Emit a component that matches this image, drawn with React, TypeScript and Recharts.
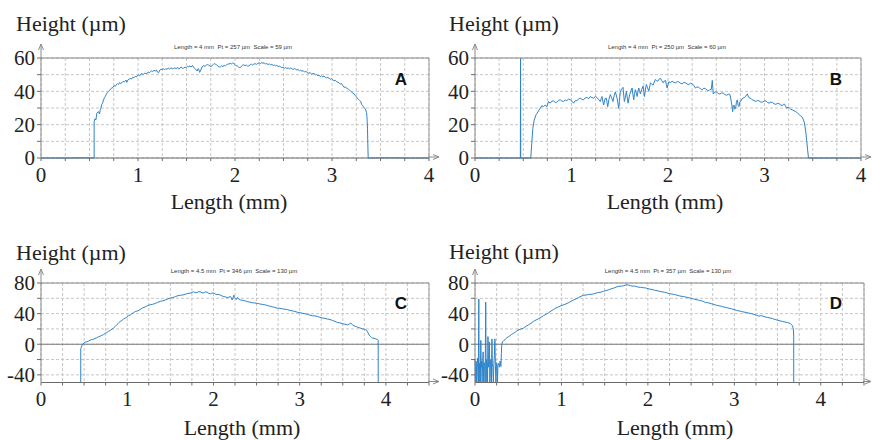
import React from 'react';
import { LineChart, Line, XAxis, YAxis, CartesianGrid, ReferenceLine } from 'recharts';

// ---------- data: [length (mm), height (µm)] ----------
const profileA: [number, number][] = [
  [0, 0], [0.3, 0], [0.45, 0.1], [0.548, 0], [0.548, 21.6], [0.556, 23.5], [0.566, 22.8], [0.575, 26.7], [0.585, 27.5], [0.593, 27.8],
  [0.603, 26.4], [0.61, 28.6], [0.617, 29.8], [0.627, 32.2], [0.636, 33.1], [0.644, 34.9], [0.655, 36.2], [0.664, 37.1], [0.672, 38], [0.684, 39.3],
  [0.696, 40], [0.708, 40.6], [0.718, 41.5], [0.73, 42], [0.742, 42.3], [0.754, 43.4], [0.765, 43], [0.776, 43.9], [0.788, 44.6], [0.799, 44.1],
  [0.81, 45.2], [0.822, 44.7], [0.834, 45.1], [0.846, 46], [0.858, 45.6], [0.868, 46.1], [0.876, 46.8], [0.885, 45.4], [0.897, 46.9], [0.909, 47.4],
  [0.92, 47.8], [0.932, 47.3], [0.945, 48.4], [0.958, 48.1], [0.971, 49], [0.983, 48.6], [0.995, 49.5], [1.006, 49.8], [1.018, 49.3], [1.03, 50.4],
  [1.04, 50.6], [1.055, 50.1], [1.07, 51], [1.081, 50.7], [1.092, 50.8], [1.105, 51.5], [1.117, 51.1], [1.127, 51.8], [1.14, 52.3], [1.152, 51.9],
  [1.165, 52.6], [1.178, 52.2], [1.19, 52.8], [1.2, 51.6], [1.213, 51.2], [1.224, 52.7], [1.235, 53.2], [1.247, 53], [1.26, 53.6], [1.272, 53.1],
  [1.285, 53.5], [1.299, 53.3], [1.312, 53.9], [1.326, 53.4], [1.34, 54.1], [1.354, 53.6], [1.368, 53.7], [1.38, 54.2], [1.393, 53.5], [1.406, 54.4],
  [1.419, 53.3], [1.432, 54], [1.446, 54.6], [1.458, 53.8], [1.471, 53.9], [1.484, 54.5], [1.497, 54.2], [1.51, 55], [1.523, 54.7], [1.536, 55.3],
  [1.548, 54.6], [1.562, 55.6], [1.574, 54.3], [1.586, 53.8], [1.598, 52.9], [1.609, 52.2], [1.618, 53.6], [1.626, 53.3], [1.635, 51.4], [1.643, 52],
  [1.652, 53.4], [1.66, 54.6], [1.67, 55.1], [1.678, 55.5], [1.69, 54.9], [1.704, 55.7], [1.717, 56], [1.729, 55.7], [1.742, 55.1], [1.752, 54.9],
  [1.764, 55.4], [1.776, 56.1], [1.787, 56.6], [1.798, 56.3], [1.81, 55.9], [1.824, 55.2], [1.837, 54.6], [1.85, 54.7], [1.863, 55.3], [1.876, 54.9],
  [1.889, 55.6], [1.902, 55.3], [1.914, 55.8], [1.925, 56.5], [1.936, 56.3], [1.95, 56.8], [1.962, 56.4], [1.975, 57], [1.988, 56.7], [2, 56.1],
  [2.011, 55.4], [2.022, 55.3], [2.035, 54.6], [2.046, 54.3], [2.057, 54.3], [2.068, 55.2], [2.079, 55.7], [2.091, 55.9], [2.104, 55.4], [2.117, 55.8],
  [2.13, 55.1], [2.143, 55.3], [2.156, 55.9], [2.169, 56.3], [2.181, 55.8], [2.194, 56.3], [2.208, 56.6], [2.222, 56.2], [2.236, 56.8], [2.25, 57.1],
  [2.263, 56.7], [2.276, 57.2], [2.289, 56.9], [2.302, 57.1], [2.315, 56.3], [2.328, 56.7], [2.341, 56.1], [2.354, 56.4], [2.367, 55.9], [2.38, 56.2],
  [2.393, 55.5], [2.406, 55.8], [2.418, 55.3], [2.431, 55.6], [2.444, 54.9], [2.457, 55.1], [2.47, 54.7], [2.483, 54.2], [2.496, 54.6], [2.509, 53.9],
  [2.522, 54.2], [2.535, 53.7], [2.548, 54.1], [2.56, 53.5], [2.573, 54], [2.586, 53.6], [2.599, 53.1], [2.612, 53.6], [2.625, 53.3], [2.638, 52.8],
  [2.651, 53.1], [2.664, 52.4], [2.677, 52.7], [2.69, 52.1], [2.703, 52.4], [2.716, 51.6], [2.73, 51.9], [2.746, 51.4], [2.76, 50.9], [2.774, 51.2],
  [2.788, 50.4], [2.8, 50.7], [2.815, 50.6], [2.828, 49.9], [2.84, 50.1], [2.853, 49.4], [2.866, 49.6], [2.879, 48.9], [2.892, 49.3], [2.905, 48.7],
  [2.918, 49.2], [2.931, 48.4], [2.944, 48.1], [2.957, 48.4], [2.97, 47.8], [2.983, 47.3], [2.996, 47.6], [3.008, 46.9], [3.021, 46.4], [3.034, 46.6],
  [3.047, 45.8], [3.06, 45.5], [3.073, 45.1], [3.086, 44.3], [3.099, 44.6], [3.112, 43.4], [3.125, 42.4], [3.137, 42.7], [3.148, 41.9], [3.159, 41.6],
  [3.17, 41.2], [3.182, 40.6], [3.194, 40], [3.205, 39.4], [3.216, 38.9], [3.228, 38.4], [3.24, 37.5], [3.251, 36.7], [3.262, 35.9], [3.272, 35.2],
  [3.283, 34.6], [3.297, 33.9], [3.305, 32.1], [3.314, 31.7], [3.324, 30.8], [3.333, 30.2], [3.341, 29.6], [3.349, 28.8], [3.356, 27.2], [3.359, 25.7],
  [3.363, 22], [3.366, 17.5], [3.369, 9], [3.373, 0], [3.6, 0.1], [3.8, 0], [4, 0],
];

const profileB: [number, number][] = [
  [0, 0], [0.3, 0], [0.47, 0], [0.472, 60], [0.474, 0], [0.578, 0], [0.589, 9.4], [0.599, 17.6], [0.613, 22.7], [0.634, 26.1],
  [0.658, 28.2], [0.675, 29.8], [0.693, 31.4], [0.71, 30.8], [0.727, 31.8], [0.745, 30.8], [0.762, 33.9], [0.779, 32.9], [0.796, 34.1], [0.814, 34.3],
  [0.831, 33.2], [0.848, 33.5], [0.866, 34.6], [0.883, 34.9], [0.9, 34.2], [0.918, 33.9], [0.935, 34.8], [0.952, 34.5], [0.97, 35.3], [0.987, 34.9],
  [1.005, 34.1], [1.022, 32.9], [1.039, 34.4], [1.056, 34.3], [1.074, 35.5], [1.091, 35.9], [1.108, 35.2], [1.125, 34.9], [1.143, 36.1], [1.16, 36.3],
  [1.178, 35.6], [1.195, 36.9], [1.212, 36.2], [1.229, 35.9], [1.247, 36.9], [1.264, 36.3], [1.281, 35.1], [1.299, 33.9], [1.308, 35.8], [1.316, 36.9],
  [1.325, 34.2], [1.333, 31.8], [1.347, 35.5], [1.361, 35.9], [1.368, 33.4], [1.375, 30.8], [1.388, 35.2], [1.402, 38], [1.416, 36.1], [1.43, 33.9],
  [1.442, 37.4], [1.454, 39.6], [1.463, 37.9], [1.472, 35.9], [1.48, 33.2], [1.489, 29.8], [1.497, 34.6], [1.506, 40], [1.52, 41.3], [1.534, 42.4],
  [1.541, 37.8], [1.548, 33.9], [1.558, 36.5], [1.569, 40], [1.577, 36.6], [1.586, 32.9], [1.594, 35.4], [1.603, 38], [1.615, 40.1], [1.628, 42],
  [1.636, 38.3], [1.645, 34.9], [1.653, 38.6], [1.662, 41], [1.671, 39.1], [1.68, 36.9], [1.688, 39.6], [1.697, 42], [1.705, 40.4], [1.714, 38.4],
  [1.728, 41.2], [1.742, 43.1], [1.749, 39.8], [1.756, 36.9], [1.766, 40.9], [1.776, 44.1], [1.788, 42.2], [1.801, 40], [1.81, 42.6], [1.818, 45.1],
  [1.832, 44.3], [1.846, 43.7], [1.858, 45.6], [1.87, 47.1], [1.882, 46.3], [1.894, 46.1], [1.908, 47.3], [1.922, 47.8], [1.936, 46.4], [1.95, 45.1],
  [1.962, 46.2], [1.974, 46.5], [1.982, 44.2], [1.991, 42], [2.0, 44.1], [2.008, 45.7], [2.026, 45.3], [2.043, 46.1], [2.06, 45.4], [2.078, 45.1],
  [2.095, 45.8], [2.112, 45.7], [2.13, 44.8], [2.147, 44.5], [2.164, 45.3], [2.182, 45.1], [2.199, 44.3], [2.216, 44.1], [2.234, 44.9], [2.251, 44.5],
  [2.268, 43.4], [2.285, 42], [2.302, 42.7], [2.32, 42.4], [2.337, 41.4], [2.355, 41], [2.372, 41.9], [2.389, 41.6], [2.406, 40.6], [2.424, 40.4],
  [2.436, 41.2], [2.448, 41], [2.459, 46.5], [2.469, 38.4], [2.486, 39.7], [2.504, 39.6], [2.521, 38.6], [2.538, 38.4], [2.556, 39.1], [2.573, 38.9],
  [2.59, 38.1], [2.608, 37.6], [2.625, 38.3], [2.642, 38], [2.656, 33.9], [2.663, 31.2], [2.67, 27.8], [2.677, 31.4], [2.684, 31.8], [2.692, 29.3],
  [2.701, 29.8], [2.709, 33.5], [2.718, 34.9], [2.727, 31.6], [2.736, 30.8], [2.745, 33.8], [2.753, 33.9], [2.765, 35.4], [2.777, 35.9], [2.791, 36.3],
  [2.805, 36.9], [2.813, 37.9], [2.822, 38.4], [2.836, 36.4], [2.85, 35.9], [2.862, 35.6], [2.874, 34.9], [2.891, 34.6], [2.909, 33.9], [2.926, 34.5],
  [2.943, 34.3], [2.96, 33.6], [2.978, 33.5], [2.995, 34.1], [3.013, 34.3], [3.03, 33.4], [3.047, 32.9], [3.065, 33.6], [3.082, 33.3], [3.1, 32.5],
  [3.117, 32.2], [3.134, 32.8], [3.151, 32.6], [3.169, 31.8], [3.186, 31.4], [3.198, 32.3], [3.21, 32.2], [3.22, 30.9], [3.231, 29.8], [3.243, 30.6],
  [3.255, 30.2], [3.272, 29.3], [3.29, 28.8], [3.307, 28.3], [3.324, 27.8], [3.342, 27], [3.359, 26.1], [3.373, 25.4], [3.387, 24.7], [3.4, 23.4],
  [3.411, 21.6], [3.42, 18.8], [3.428, 15.5], [3.437, 10.5], [3.446, 5.3], [3.456, 0], [3.8, 0], [4, 0],
];

const profileC: [number, number][] = [
  [0, -50], [0.2, -50], [0.461, -50], [0.461, -5.8], [0.469, -3.6], [0.477, -1.2], [0.485, 0], [0.498, 1.6], [0.512, 2.7], [0.531, 3.1],
  [0.55, 4], [0.57, 5.3], [0.589, 6.2], [0.608, 6.6], [0.628, 7.6], [0.648, 8.4], [0.667, 9.8], [0.686, 10.5], [0.705, 11.6], [0.724, 12.5],
  [0.744, 14.2], [0.763, 15.3], [0.783, 16.9], [0.802, 17.8], [0.822, 19.6], [0.841, 21], [0.86, 23.1], [0.88, 25.6], [0.899, 27.6], [0.918, 29.7],
  [0.938, 31.1], [0.957, 32.9], [0.977, 34.2], [0.996, 35.4], [1.015, 37.3], [1.034, 38.2], [1.054, 40], [1.073, 41.1], [1.093, 42.7], [1.122, 43.6],
  [1.151, 45.3], [1.18, 47.5], [1.209, 48.9], [1.238, 50.6], [1.267, 51.6], [1.296, 52.2], [1.326, 53.3], [1.355, 54.8], [1.384, 56], [1.413, 56.7],
  [1.442, 57.8], [1.471, 59.2], [1.5, 60.4], [1.529, 60.9], [1.558, 62.2], [1.587, 63.4], [1.616, 64], [1.645, 64.4], [1.674, 65.3], [1.703, 66.4],
  [1.733, 66.7], [1.752, 67.8], [1.771, 68.4], [1.79, 67.3], [1.81, 67.6], [1.83, 68.7], [1.849, 68.4], [1.868, 67.2], [1.888, 67.1], [1.907, 68.5],
  [1.926, 68], [1.946, 66.5], [1.965, 65.8], [1.985, 67.1], [2.004, 66.7], [2.023, 65.4], [2.043, 64.9], [2.062, 65.2], [2.081, 64], [2.1, 63.1],
  [2.12, 62.2], [2.14, 61.8], [2.159, 60.9], [2.178, 61.6], [2.198, 62.2], [2.208, 60.3], [2.217, 57.8], [2.227, 60.5], [2.236, 64], [2.246, 61.1],
  [2.256, 59.6], [2.266, 58.4], [2.275, 60.9], [2.295, 59.1], [2.314, 57.8], [2.334, 57.5], [2.353, 56.9], [2.372, 56.6], [2.392, 55.6], [2.421, 55.1],
  [2.45, 54.2], [2.479, 53.9], [2.508, 53.3], [2.537, 52.7], [2.566, 52], [2.595, 51.6], [2.624, 50.7], [2.653, 49.7], [2.682, 48.9], [2.711, 48.2],
  [2.74, 47.1], [2.769, 47], [2.798, 46.2], [2.828, 45.8], [2.857, 45.3], [2.886, 44.2], [2.915, 43.6], [2.944, 42.9], [2.973, 41.8], [3.002, 41.3],
  [3.031, 40.4], [3.06, 39.9], [3.089, 39.1], [3.118, 38.1], [3.147, 37.3], [3.176, 37], [3.205, 36.4], [3.234, 35.2], [3.264, 34.2], [3.293, 33.8],
  [3.322, 32.9], [3.351, 32.3], [3.38, 31.1], [3.409, 29.9], [3.438, 28.4], [3.467, 27.9], [3.496, 26.7], [3.525, 26.2], [3.554, 25.3], [3.574, 26.3],
  [3.593, 27.6], [3.612, 25.5], [3.632, 24], [3.651, 23.3], [3.671, 22.2], [3.69, 21.5], [3.709, 20.9], [3.729, 20.1], [3.748, 19.6], [3.764, 18.9],
  [3.779, 17.8], [3.792, 15], [3.806, 12], [3.82, 10.2], [3.833, 8.9], [3.848, 8], [3.864, 7.6], [3.884, 6.9], [3.903, 6.2], [3.911, 5.3],
  [3.911, -50], [4.2, -50], [4.5, -50],
];

const profileD: [number, number][] = [
  [0, -20], [0.005, -50], [0.01, -22], [0.016, -25], [0.02, -50], [0.026, -24], [0.032, -18], [0.038, -50], [0.044, 59], [0.048, -50],
  [0.053, -25], [0.058, -28], [0.062, -50], [0.067, 5], [0.072, -30], [0.077, -22], [0.082, -50], [0.088, -26], [0.094, -10], [0.1, -50],
  [0.106, -24], [0.112, -28], [0.117, -50], [0.124, 55], [0.129, -50], [0.134, -20], [0.14, -26], [0.145, -50], [0.15, 10], [0.156, -30],
  [0.162, -22], [0.167, 3], [0.172, -50], [0.178, -28], [0.184, -20], [0.19, -50], [0.196, 7], [0.2, -25], [0.206, -30], [0.212, -50],
  [0.218, -26], [0.224, -15], [0.23, 7], [0.236, -28], [0.242, -50], [0.248, -24], [0.254, -26], [0.26, -50], [0.265, -28], [0.272, -25],
  [0.278, -28], [0.284, -30], [0.29, -22], [0.296, -27], [0.3, -29], [0.305, -12], [0.309, -1.3], [0.317, 3.1], [0.332, 4.8], [0.348, 6.2],
  [0.367, 8.3], [0.387, 9.8], [0.406, 11.2], [0.425, 12.9], [0.444, 14.1], [0.464, 15.6], [0.483, 17.4], [0.502, 18.7], [0.531, 19.8], [0.56, 20.9],
  [0.589, 23.4], [0.618, 25.3], [0.647, 27.3], [0.676, 29.8], [0.705, 31.6], [0.734, 33.3], [0.763, 35.1], [0.792, 37.3], [0.821, 39.3], [0.85, 40.9],
  [0.879, 43.4], [0.908, 45.3], [0.937, 47.4], [0.966, 48.9], [0.995, 50.3], [1.024, 51.6], [1.053, 52.7], [1.082, 54.2], [1.111, 56.1], [1.14, 57.8],
  [1.169, 59.3], [1.198, 60.9], [1.227, 62.7], [1.256, 64], [1.285, 64.3], [1.314, 64.9], [1.343, 65.2], [1.372, 65.8], [1.401, 66.9], [1.43, 67.6],
  [1.459, 68.1], [1.488, 69.3], [1.517, 70.1], [1.546, 71.1], [1.575, 72.4], [1.604, 73.3], [1.633, 74.7], [1.662, 75.6], [1.691, 75.9], [1.72, 76.4],
  [1.74, 77.2], [1.759, 77.8], [1.778, 77.1], [1.797, 76.8], [1.817, 75.8], [1.836, 76], [1.856, 75.7], [1.875, 75.2], [1.894, 74.4], [1.913, 74.5],
  [1.932, 74], [1.952, 73.8], [1.971, 73.6], [1.99, 73], [2.019, 72.1], [2.048, 71.5], [2.077, 70.6], [2.106, 70], [2.135, 69.1], [2.164, 68.5],
  [2.193, 67.9], [2.222, 67], [2.251, 66.1], [2.28, 65.5], [2.309, 64.9], [2.338, 64], [2.367, 63.1], [2.396, 62.5], [2.425, 62], [2.454, 61.2],
  [2.483, 60.4], [2.512, 59.8], [2.541, 58.7], [2.57, 58], [2.599, 57.3], [2.628, 56.4], [2.648, 55.6], [2.667, 54.5], [2.686, 54.3], [2.705, 53.9],
  [2.734, 52.9], [2.763, 52], [2.792, 51], [2.821, 50.2], [2.85, 49.6], [2.879, 48.6], [2.908, 47.9], [2.937, 47], [2.966, 46.3], [2.995, 45.2],
  [3.024, 44.4], [3.053, 43.5], [3.082, 42.9], [3.111, 42], [3.14, 41.4], [3.169, 40.6], [3.198, 39.9], [3.227, 39], [3.256, 37.9], [3.285, 36.6],
  [3.305, 37.4], [3.324, 37], [3.353, 35.9], [3.382, 35], [3.411, 34.4], [3.44, 33.5], [3.469, 32.4], [3.498, 31.5], [3.527, 30.6], [3.556, 29.8],
  [3.585, 29.1], [3.614, 28.3], [3.633, 27.7], [3.652, 26.8], [3.662, 25.6], [3.672, 24], [3.678, 22], [3.683, 19.6], [3.687, 10], [3.687, -50],
  [4.2, -50], [4.5, -50],
];

// ---------- ticks & labels ----------
const xGridTicks4 = [0, 0.25, 0.5, 0.75, 1, 1.25, 1.5, 1.75, 2, 2.25, 2.5, 2.75, 3, 3.25, 3.5, 3.75, 4];
const xGridTicks45 = [0, 0.25, 0.5, 0.75, 1, 1.25, 1.5, 1.75, 2, 2.25, 2.5, 2.75, 3, 3.25, 3.5, 3.75, 4, 4.25, 4.5];
const xTickLabels = [0, 1, 2, 3, 4];
const yGridTicksAB = [0, 10, 20, 30, 40, 50, 60];
const yTickLabelsAB = [0, 20, 40, 60];
const yGridTicksCD = [-40, -20, 0, 20, 40, 60, 80];
const yTickLabelsCD = [-40, 0, 40, 80];
const headerTexts = [
  'Length = 4 mm  Pt = 257 µm  Scale = 59 µm',
  'Length = 4 mm  Pt = 250 µm  Scale = 60 µm',
  'Length = 4.5 mm  Pt = 346 µm  Scale = 130 µm',
  'Length = 4.5 mm  Pt = 357 µm  Scale = 130 µm',
];
const panelLetters = ['A', 'B', 'C', 'D'];
const yTitle = 'Height (µm)';
const xTitle = 'Length (mm)';

const minorTicks = (max: number, step: number) => {
  const out: number[] = [];
  const n = Math.round(max / step);
  for (let i = 0; i <= n; i++) out.push(Math.round(i * step * 1000) / 1000);
  return out;
};

const SERIF = "'Liberation Serif', 'Times New Roman', serif";
const SANS = "'Liberation Sans', Arial, sans-serif";
const LINE_COLOR = '#2e83c8';

type PanelCfg = {
  left: number; top: number; width: number; height: number;
  plotL: number; plotR: number; plotT: number; plotB: number;
  profile: [number, number][];
  xMax: number; xTicks: number[];
  yDomain: [number, number]; yTicks: number[]; yLabels: number[];
  minorYStep: number;
  zeroLine: boolean;
  xTip: number; yTip: number;
  header: string; headerX: number; headerY: number;
  letter: string; letterX: number; letterY: number;
  yTitleX: number; yTitleY: number;
  xTitleX: number; xTitleY: number;
};

const panels: PanelCfg[] = [
  {
    left: 0, top: 0, width: 440, height: 220,
    plotL: 41, plotR: 428, plotT: 59, plotB: 157,
    profile: profileA, xMax: 4, xTicks: xGridTicks4,
    yDomain: [0, 60], yTicks: yGridTicksAB, yLabels: yTickLabelsAB, minorYStep: 5, zeroLine: false,
    xTip: 439, yTip: 44,
    header: headerTexts[0], headerX: 233, headerY: 49,
    letter: panelLetters[0], letterX: 401, letterY: 85,
    yTitleX: 16, yTitleY: 31, xTitleX: 229, xTitleY: 209,
  },
  {
    left: 436, top: 0, width: 436, height: 220,
    plotL: 475, plotR: 860, plotT: 59, plotB: 157,
    profile: profileB, xMax: 4, xTicks: xGridTicks4,
    yDomain: [0, 60], yTicks: yGridTicksAB, yLabels: yTickLabelsAB, minorYStep: 5, zeroLine: false,
    xTip: 871, yTip: 44,
    header: headerTexts[1], headerX: 667, headerY: 49,
    letter: panelLetters[1], letterX: 836, letterY: 85,
    yTitleX: 449, yTitleY: 31, xTitleX: 665, xTitleY: 209,
  },
  {
    left: 0, top: 220, width: 440, height: 220,
    plotL: 41, plotR: 428, plotT: 284, plotB: 381.5,
    profile: profileC, xMax: 4.5, xTicks: xGridTicks45,
    yDomain: [-50, 80], yTicks: yGridTicksCD, yLabels: yTickLabelsCD, minorYStep: 10, zeroLine: true,
    xTip: 439, yTip: 269,
    header: headerTexts[2], headerX: 234, headerY: 273,
    letter: panelLetters[2], letterX: 401, letterY: 309,
    yTitleX: 16, yTitleY: 260, xTitleX: 242, xTitleY: 435,
  },
  {
    left: 436, top: 220, width: 436, height: 220,
    plotL: 475, plotR: 863, plotT: 284, plotB: 381.5,
    profile: profileD, xMax: 4.5, xTicks: xGridTicks45,
    yDomain: [-50, 80], yTicks: yGridTicksCD, yLabels: yTickLabelsCD, minorYStep: 10, zeroLine: true,
    xTip: 871, yTip: 269,
    header: headerTexts[3], headerX: 668, headerY: 273,
    letter: panelLetters[3], letterX: 836, letterY: 309,
    yTitleX: 449, yTitleY: 259, xTitleX: 675, xTitleY: 435,
  },
];

function Panel({ cfg }: { cfg: PanelCfg }) {
  const data = cfg.profile.map(([x, y]) => ({ x, y }));
  const minorX = minorTicks(cfg.xMax, 0.05);
  const minorY: number[] = [];
  for (let v = cfg.yDomain[0]; v <= cfg.yDomain[1]; v += cfg.minorYStep) minorY.push(v);
  const tickStyle = { fontSize: 21, fill: '#222', fontFamily: SERIF };
  // every axis takes 1px of room; margins make up the rest of the plot box
  const relL = cfg.plotL - cfg.left;
  const relR = cfg.plotR - cfg.left;
  const relT = cfg.plotT - cfg.top;
  const relB = cfg.plotB - cfg.top;
  const margin = {
    left: relL - 1,
    right: cfg.width - relR - 1,
    top: relT - 1,
    bottom: cfg.height - relB - 2,
  };
  return (
    <div style={{ position: 'absolute', left: cfg.left, top: cfg.top }}>
      <LineChart width={cfg.width} height={cfg.height} data={data} margin={margin}>
        <CartesianGrid stroke="#c6c6c6" strokeDasharray="3 2" />
        <XAxis
          dataKey="x" type="number" domain={[0, cfg.xMax]} ticks={cfg.xTicks} interval={0} height={1}
          tickFormatter={(v: number) => (xTickLabels.includes(v) ? String(v) : '')}
          tick={tickStyle} tickSize={3} tickMargin={6}
          axisLine={{ stroke: '#6b6b6b' }} tickLine={{ stroke: '#6b6b6b' }}
        />
        <XAxis
          xAxisId="minorBottom" dataKey="x" type="number" domain={[0, cfg.xMax]} ticks={minorX} interval={0}
          height={1} tick={false} tickSize={3} mirror axisLine={false} tickLine={{ stroke: '#555' }}
        />
        <XAxis
          xAxisId="minorTop" orientation="top" dataKey="x" type="number" domain={[0, cfg.xMax]} ticks={minorX}
          interval={0} height={1} tick={false} tickSize={2} mirror axisLine={{ stroke: '#888' }} tickLine={{ stroke: '#555' }}
        />
        <YAxis
          type="number" domain={cfg.yDomain} ticks={cfg.yTicks} interval={0} width={1}
          tickFormatter={(v: number) => (cfg.yLabels.includes(v) ? String(v) : '')}
          tick={tickStyle} tickSize={4} tickMargin={2}
          axisLine={{ stroke: '#8a8a8a' }} tickLine={{ stroke: '#6b6b6b' }}
        />
        <YAxis
          yAxisId="minorRight" orientation="right" type="number" domain={cfg.yDomain} ticks={minorY} interval={0}
          width={1} tick={false} tickSize={2} mirror axisLine={{ stroke: '#999' }} tickLine={{ stroke: '#666' }}
        />
        {cfg.zeroLine && <ReferenceLine y={0} stroke="#7a7a7a" strokeWidth={1.2} />}
        <Line
          dataKey="y" type="linear" stroke={LINE_COLOR} strokeWidth={1} dot={false}
          isAnimationActive={false} activeDot={false}
        />
      </LineChart>
    </div>
  );
}

export default function App() {
  return (
    <div style={{ position: 'absolute', left: 0, top: 0, width: 872, height: 440, background: '#fff', overflow: 'hidden' }}>
      {panels.map((p) => (
        <Panel key={p.letter} cfg={p} />
      ))}
      <svg width={872} height={440} style={{ position: 'absolute', left: 0, top: 0, pointerEvents: 'none' }}>
        {panels.map((p) => (
          <g key={p.letter}>
            <line x1={p.plotL} y1={p.plotT} x2={p.plotL} y2={p.yTip} stroke="#8a8a8a" strokeWidth={1} />
            <polyline points={`${p.plotL - 2.5},${p.yTip + 6} ${p.plotL},${p.yTip} ${p.plotL + 2.5},${p.yTip + 6}`} fill="none" stroke="#8a8a8a" strokeWidth={1} />
            <line x1={p.plotR} y1={p.plotB} x2={p.xTip} y2={p.plotB} stroke="#8a8a8a" strokeWidth={1} />
            <polyline points={`${p.xTip - 6},${p.plotB - 2.5} ${p.xTip},${p.plotB} ${p.xTip - 6},${p.plotB + 2.5}`} fill="none" stroke="#8a8a8a" strokeWidth={1} />
            <text x={p.yTitleX} y={p.yTitleY} fontFamily={SERIF} fontSize={22} fill="#222">{yTitle}</text>
            <text x={p.xTitleX} y={p.xTitleY} textAnchor="middle" fontFamily={SERIF} fontSize={22} fill="#222">{xTitle}</text>
            <text x={p.headerX} y={p.headerY} textAnchor="middle" fontFamily={SANS} fontSize={6} fill="#333" style={{ whiteSpace: 'pre' }}>{p.header}</text>
            <text x={p.letterX} y={p.letterY} textAnchor="middle" fontFamily={SANS} fontWeight="bold" fontSize={17} fill="#111">{p.letter}</text>
          </g>
        ))}
      </svg>
    </div>
  );
}
